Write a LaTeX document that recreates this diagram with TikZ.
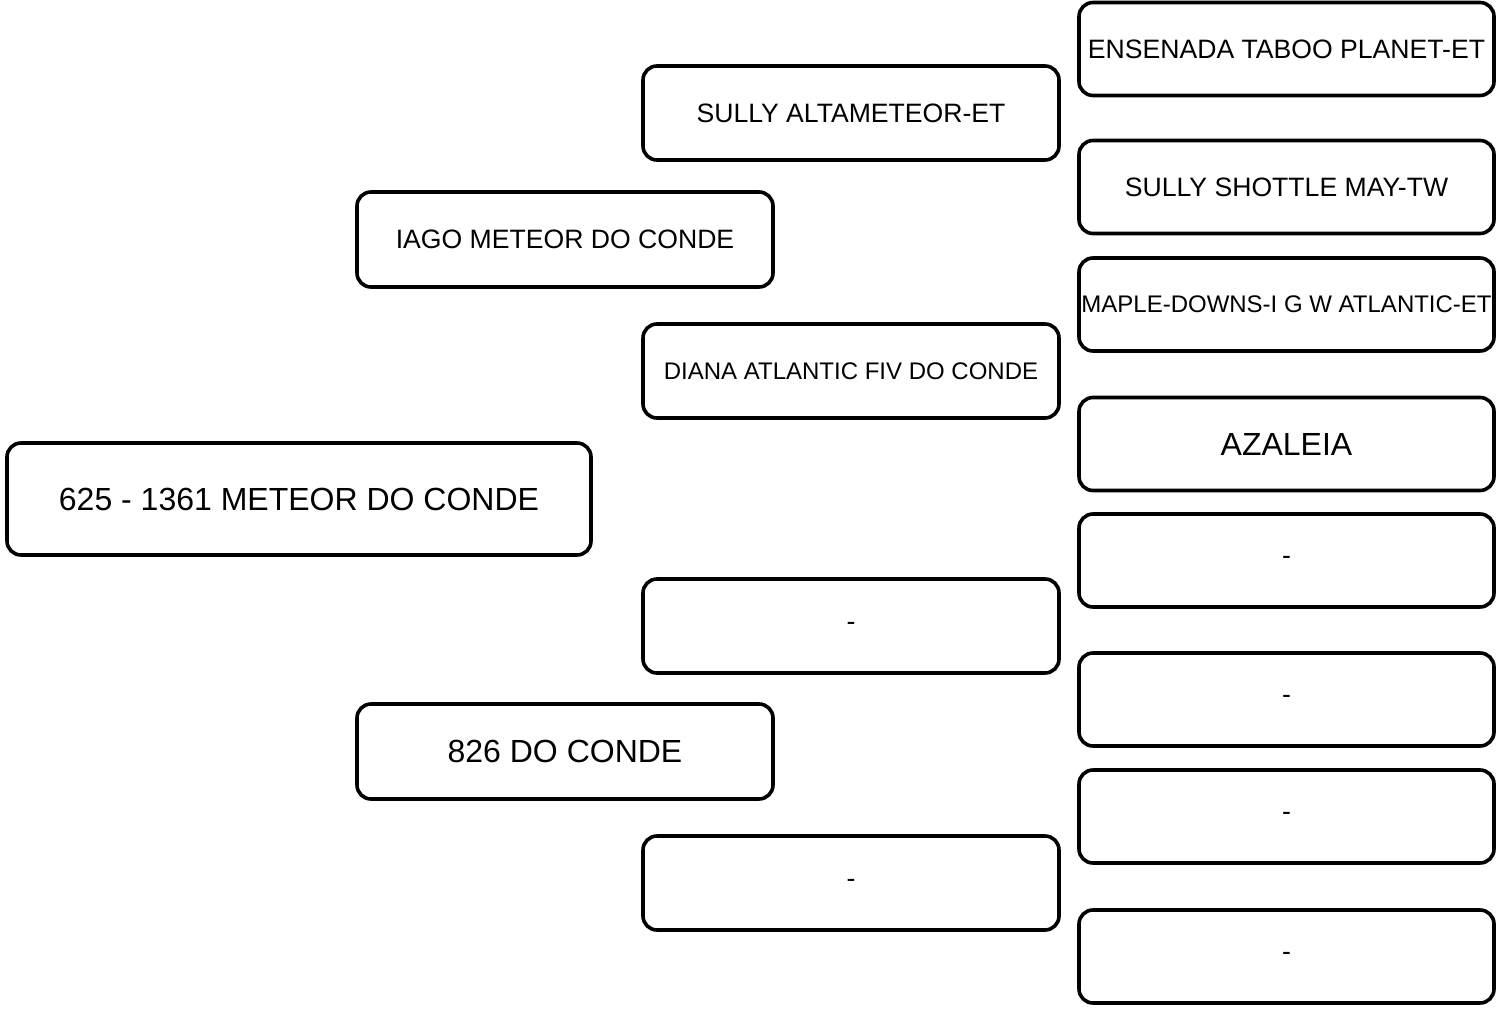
\documentclass[tikz,border=0pt]{standalone}
\usepackage{fontspec}
\setmainfont{Liberation Sans}
\tikzset{
  pbox/.style={shape=rectangle,draw=black,line width=3.6pt,rounded corners=14pt,fill=white,inner sep=0pt,align=center},
  big/.style={font=\fontsize{32}{38}\selectfont},
  mid/.style={font=\fontsize{26.6}{32}\selectfont},
  small/.style={font=\fontsize{24}{29}\selectfont}
}
\begin{document}
\begin{tikzpicture}[x=1pt,y=-1pt]
        \useasboundingbox (0,0) rectangle (1498,1011);
        % sire and dam lines
        \node[pbox,big,minimum width=584pt,minimum height=112pt](r) at (299,499) {625 - 1361 METEOR DO CONDE};
        \node[pbox,mid,minimum width=416pt,minimum height=95pt](a1) at (565,239.5) {IAGO METEOR DO CONDE};
        \node[pbox,big,minimum width=416pt,minimum height=95pt](a2) at (565,751.5) {826 DO CONDE};
        \node[pbox,mid,minimum width=416pt,minimum height=94pt](b1) at (851,113) {SULLY ALTAMETEOR-ET};
        \node[pbox,small,minimum width=416pt,minimum height=94pt](b2) at (851,371) {DIANA ATLANTIC FIV DO CONDE};
        \node[pbox,mid,minimum width=416pt,minimum height=94pt](b3) at (851,626) {-};
        \node[pbox,mid,minimum width=416pt,minimum height=94pt](b4) at (851,883) {-};
        \node[pbox,mid,minimum width=415pt,minimum height=93pt](c1) at (1286.5,49) {ENSENADA TABOO PLANET-ET};
        \node[pbox,mid,minimum width=415pt,minimum height=93pt](c2) at (1286.5,187) {SULLY SHOTTLE MAY-TW};
        \node[pbox,small,minimum width=415pt,minimum height=93pt](c3) at (1286.5,304.5) {MAPLE-DOWNS-I G W ATLANTIC-ET};
        \node[pbox,big,minimum width=415pt,minimum height=93pt](c4) at (1286.5,444) {AZALEIA};
        \node[pbox,mid,minimum width=415pt,minimum height=93pt](c5) at (1286.5,560.5) {-};
        \node[pbox,mid,minimum width=415pt,minimum height=93pt](c6) at (1286.5,699.5) {-};
        \node[pbox,mid,minimum width=415pt,minimum height=93pt](c7) at (1286.5,816.5) {-};
        \node[pbox,mid,minimum width=415pt,minimum height=93pt](c8) at (1286.5,956.5) {-};
    \end{tikzpicture}
\end{document}
